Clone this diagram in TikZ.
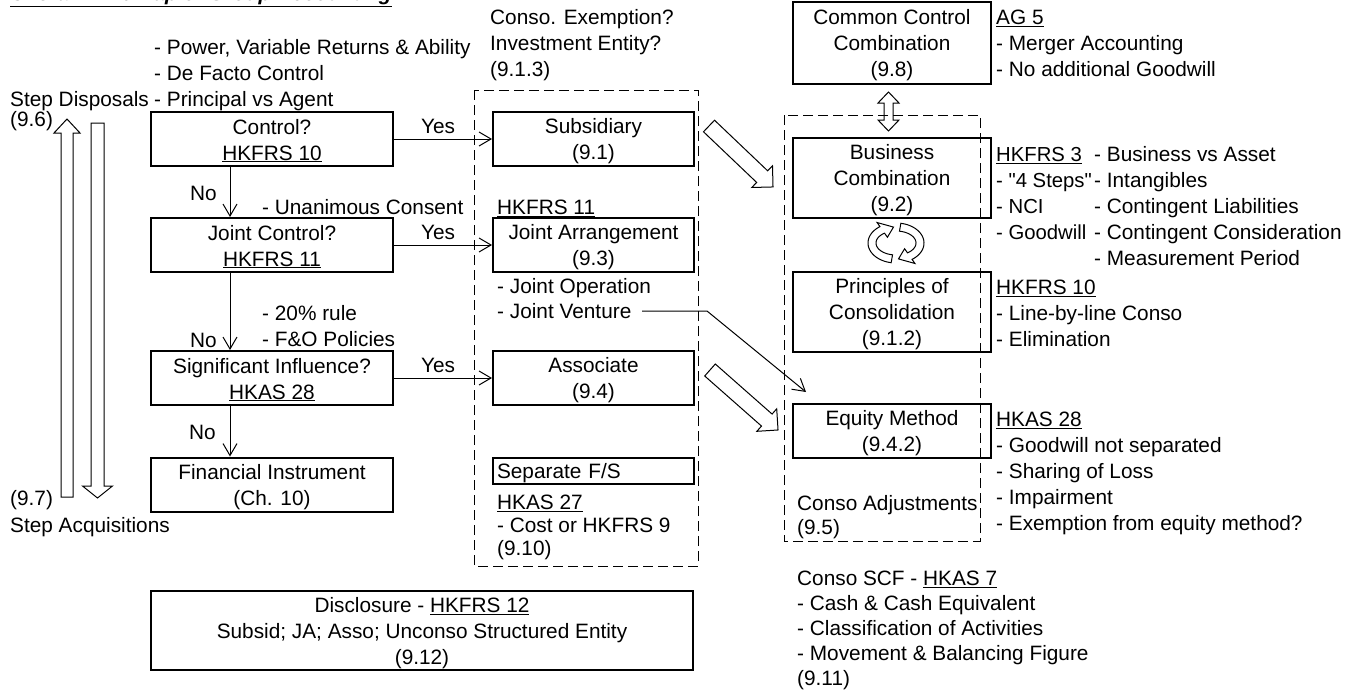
\documentclass[tikz,border=0pt]{standalone}
\usepackage{fontspec}
\setmainfont{Liberation Sans}[Ligatures=TeXOff]
\usetikzlibrary{arrows.meta}
\newcommand{\mf}{\fontsize{20.8}{26}\selectfont}
\newcommand{\mytop}{\rule{0pt}{20pt}}
\newcommand{\mybot}{\rule[-4pt]{0pt}{4pt}}
\newcommand{\blockarrow}[7]{%
  \begin{scope}[shift={(#1,#2)},rotate=#3]
    \draw[hollow] (0,-#5) -- ({#4-#7},-#5) -- ({#4-#7},-#6) -- (#4,0) -- ({#4-#7},#6) -- ({#4-#7},#5) -- (0,#5) -- cycle;
  \end{scope}}
\begin{document}
\begin{tikzpicture}[x=1pt,y=-1pt,
  box/.style={draw,line width=2pt,inner sep=0pt,align=center,font=\mf},
  txt/.style={inner sep=0pt,align=left,anchor=north west,yshift=20pt,font=\mf},
  lbl/.style={inner sep=0pt,anchor=base,yshift=6pt,xshift=-5pt,font=\mf},
  arr/.style={line width=1pt,-{Straight Barb[length=12pt,width=14pt]}},
  hollow/.style={line width=1pt,line join=miter},
  grp/.style={draw,line width=1pt,dash pattern=on 10pt off 5pt}]
\useasboundingbox (0,0) rectangle (1357,696);

% title
\node[txt,font=\mf\bfseries\itshape] (title) at (10,0.5) {\mytop\underline{Overall Mindmap of Group Accounting}};

% dashed groups
\draw[grp] (474,90) rectangle (698,566);
\draw[grp] (784,115) rectangle (980,541);

% left column boxes
\node[box,minimum width=242pt,minimum height=54pt] (ctrl) at (272,139) {\mytop Control?\\\underline{HKFRS 10}\mybot};
\node[box,minimum width=242pt,minimum height=54pt] (jc) at (272,245) {\mytop Joint Control?\\\underline{HKFRS 11}\mybot};
\node[box,minimum width=242pt,minimum height=54pt] (si) at (272,378) {\mytop Significant Influence?\\\underline{HKAS 28}\mybot};
\node[box,minimum width=242pt,minimum height=54pt] (fi) at (272,484.5) {\mytop Financial Instrument\\(Ch. 10)\mybot};
\node[box,minimum width=542pt,minimum height=79pt] (disc) at (422,630.5) {\mytop Disclosure - \underline{HKFRS 12}\\Subsid; JA; Asso; Unconso Structured Entity\\(9.12)\mybot};

% middle column boxes
\node[box,minimum width=201pt,minimum height=54pt] (subs) at (593.5,139) {\mytop Subsidiary\\(9.1)\mybot};
\node[box,minimum width=201pt,minimum height=54pt] (ja) at (593.5,245) {\mytop Joint Arrangement\\(9.3)\mybot};
\node[box,minimum width=201pt,minimum height=54pt] (asso) at (593.5,378) {\mytop Associate\\(9.4)\mybot};
\node[box,minimum width=201pt,minimum height=26pt,text width=193pt,align=left,inner xsep=4pt] (sep) at (593.5,471) {\mytop Separate F/S\mybot};

% right column boxes
\node[box,minimum width=198pt,minimum height=82pt] (ccc) at (892,43) {\mytop Common Control\\Combination\\(9.8)\mybot};
\node[box,minimum width=198pt,minimum height=80pt] (bc) at (892,178) {\mytop Business\\Combination\\(9.2)\mybot};
\node[box,minimum width=198pt,minimum height=80pt] (pc) at (892,312) {\mytop Principles of\\Consolidation\\(9.1.2)\mybot};
\node[box,minimum width=198pt,minimum height=54pt] (em) at (892,431) {\mytop Equity Method\\(9.4.2)\mybot};

% free texts, left
\node[txt] (pw) at (154,54) {\mytop - Power, Variable Returns \& Ability\\- De Facto Control\\- Principal vs Agent};
\node[txt] (sd) at (10,106) {\mytop Step Disposals};
\node[txt] (n96) at (10,126) {\mytop (9.6)};
\node[txt] (n97) at (10,505) {\mytop (9.7)};
\node[txt] (sa) at (10,532) {\mytop Step Acquisitions};
\node[txt] (un) at (262,214) {\mytop - Unanimous Consent};
\node[txt] (f20) at (262,320) {\mytop - 20\% rule\\- F\&O Policies};
\node[txt] (no1) at (190,200) {\mytop No};
\node[txt] (no2) at (190,347) {\mytop No};
\node[txt] (no3) at (189,439) {\mytop No};

% free texts, middle
\node[txt] (ce) at (490,24) {\mytop Conso. Exemption?\\Investment Entity?\\(9.1.3)};
\node[txt] (h11) at (497,214) {\mytop\underline{HKFRS 11}};
\node[txt] (jo) at (497,293) {\mytop - Joint Operation};
\node[txt] (jv) at (497,318) {\mytop - Joint Venture};
\node[txt,font=\fontsize{20.8}{23}\selectfont] (h27) at (497,509) {\mytop\underline{HKAS 27}\\- Cost or HKFRS 9\\(9.10)};

% free texts, right
\node[txt,font=\fontsize{20.8}{24}\selectfont] (adj) at (797,510) {\mytop Conso Adjustments\\(9.5)};
\node[txt,font=\fontsize{20.8}{25}\selectfont] (scf) at (797,585) {\mytop Conso SCF - \underline{HKAS 7}\\- Cash \& Cash Equivalent\\- Classification of Activities\\- Movement \& Balancing Figure\\(9.11)};
\node[txt] (ag5) at (996,24) {\mytop\underline{AG 5}\\- Merger Accounting\\- No additional Goodwill};
\node[txt,font=\fontsize{20.3}{26}\selectfont] (h3a) at (996,161) {\mytop\underline{HKFRS 3}\\- "4 Steps"\\- NCI\\- Goodwill};
\node[txt] (h3b) at (1094,161) {\mytop - Business vs Asset\\- Intangibles\\- Contingent Liabilities\\- Contingent Consideration\\- Measurement Period};
\node[txt] (h10) at (996,294) {\mytop\underline{HKFRS 10}\\- Line-by-line Conso\\- Elimination};
\node[txt] (h28) at (996,426) {\mytop\underline{HKAS 28}\\- Goodwill not separated\\- Sharing of Loss\\- Impairment\\- Exemption from equity method?};

% connectors
\coordinate (vx) at (230,0);
\draw[arr] (ctrl.south -| vx) -- (jc.north -| vx);
\draw[arr] (jc.south -| vx) -- (si.north -| vx);
\draw[arr] (si.south -| vx) -- (fi.north -| vx);
\draw[arr] (ctrl.east) -- node[lbl] (y1) {Yes} (subs.west);
\draw[arr] (jc.east) -- node[lbl] (y2) {Yes} (ja.west);
\draw[arr] (si.east) -- node[lbl] (y3) {Yes} (asso.west);

\coordinate (jvA) at (642,311);
\coordinate (jvB) at (707,311);
\coordinate (jvC) at (806,392);
\draw[arr] (jvA) -- (jvB) -- (jvC);

% block arrows
\blockarrow{67}{497}{90}{378}{6}{13}{14}
\blockarrow{97.5}{123}{-90}{375}{6.5}{15}{12}
\blockarrow{709}{126}{-43.6}{88.4}{8}{15}{15}
\blockarrow{710}{370}{-41.4}{90.7}{8}{15}{15}

% double arrow between common control and business combination
\draw[hollow] (884,103) -- (878,103) -- (888.5,92) -- (899,103) -- (893,103) -- (893,120) -- (899,120) -- (888.5,131) -- (878,120) -- (884,120) -- cycle;

% cycle arrows
\begin{scope}[shift={(896,243)}]
\draw[hollow] plot[domain=100:235,samples=30] ({28*cos(\x)},{20*sin(\x)}) -- ({33*cos(235)},{25*sin(235)}) -- ({24*cos(264)},{16*sin(264)}) -- ({15*cos(235)},{7*sin(235)}) -- plot[domain=235:100,samples=30] ({20*cos(\x)},{12*sin(\x)}) -- cycle;
\draw[hollow] plot[domain=280:415,samples=30] ({28*cos(\x)},{20*sin(\x)}) -- ({33*cos(415)},{25*sin(415)}) -- ({24*cos(444)},{16*sin(444)}) -- ({15*cos(415)},{7*sin(415)}) -- plot[domain=415:280,samples=30] ({20*cos(\x)},{12*sin(\x)}) -- cycle;
\end{scope}
\end{tikzpicture}
\end{document}
